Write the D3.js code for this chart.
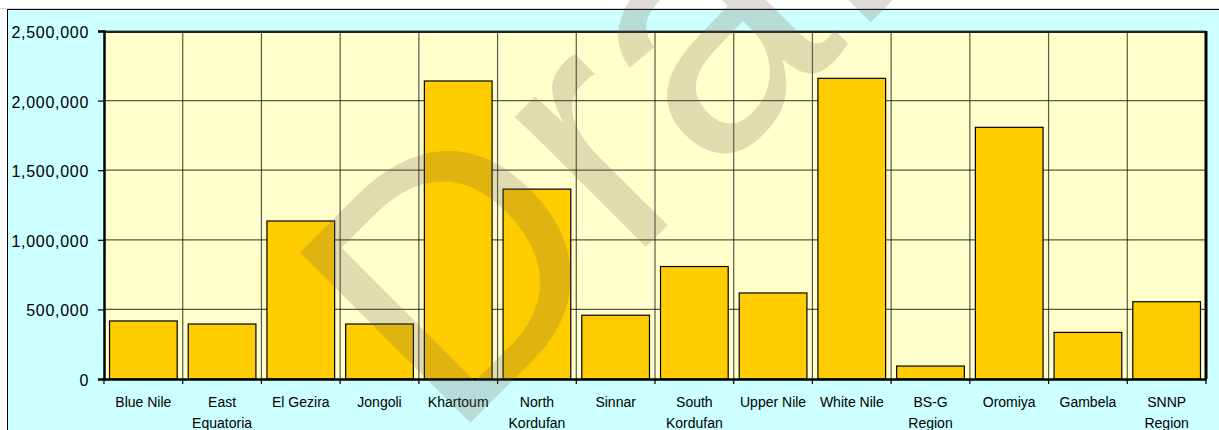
<!DOCTYPE html>
<html>
<head>
<meta charset="utf-8">
<script src="https://cdn.jsdelivr.net/npm/d3@7/dist/d3.min.js"></script>
<style>
  body { margin: 0; background: #fff; }
  svg { display: block; font-family: 'Liberation Sans', Arial, sans-serif; }
</style>
</head>
<body>
<svg id="chart" width="1219" height="430"></svg>
<script>
// regions, '\n' marks where the axis label wraps
const regions = ['Blue Nile', 'East\nEquatoria', 'El Gezira', 'Jongoli', 'Khartoum',
  'North\nKordufan', 'Sinnar', 'South\nKordufan', 'Upper Nile', 'White Nile',
  'BS-G\nRegion', 'Oromiya', 'Gambela', 'SNNP\nRegion']
const values = [417000, 395000, 1135000, 395000, 2141000, 1364000, 458000,
  808000, 618000, 2160000, 93000, 1808000, 335000, 555000]
const yTicks = [0, 500000, 1000000, 1500000, 2000000, 2500000]
const watermark = 'Draft'

let svg = d3.select('#chart')
let plot = {left: 104, right: 1206, top: 31, bottom: 379}

// chart area background
svg.append('line')
    .attr('x1', 0).attr('x2', 1219).attr('y1', 8.5).attr('y2', 8.5)
    .attr('stroke', '#d8d8d8')
svg.append('rect')
    .attr('x', 7.5).attr('y', 9.5).attr('width', 1230).attr('height', 440)
    .attr('fill', '#ccffff')
    .attr('stroke', '#000')

let x = d3.scaleBand()
    .domain(regions)
    .range([plot.left, plot.right])
    .paddingInner(0.14)
    .paddingOuter(0.07)
let y = d3.scaleLinear()
    .domain([0, 2500000])
    .range([plot.bottom, plot.top])

let step = x.step()
let boundaries = d3.range(regions.length + 1).map(i => plot.left + i * step)

svg.append('rect')
    .attr('x', plot.left).attr('y', plot.top)
    .attr('width', plot.right - plot.left).attr('height', plot.bottom - plot.top)
    .attr('fill', '#ffffcc')

// gridlines, both directions
let grid = svg.append('g')
    .attr('stroke', '#000')
    .attr('stroke-opacity', 0.65)
    .attr('stroke-width', 1.2)
grid.selectAll('line.h')
  .data(yTicks.slice(1))
  .join('line')
    .classed('h', true)
    .attr('x1', plot.left).attr('x2', plot.right)
    .attr('y1', d => y(d)).attr('y2', d => y(d))
grid.selectAll('line.v')
  .data(boundaries.slice(1, -1))
  .join('line')
    .classed('v', true)
    .attr('x1', d => d).attr('x2', d => d)
    .attr('y1', plot.top).attr('y2', plot.bottom)

// bars
svg.append('g')
  .selectAll('rect')
  .data(regions)
  .join('rect')
    .attr('x', d => x(d))
    .attr('y', (d, i) => y(values[i]))
    .attr('width', x.bandwidth())
    .attr('height', (d, i) => y(0) - y(values[i]))
    .attr('fill', '#ffcc00')
    .attr('stroke', '#000')
    .attr('stroke-width', 1.2)

// plot border: thin-ish on top, heavy on right
svg.append('line')
    .attr('x1', plot.left).attr('x2', plot.right)
    .attr('y1', plot.top + 1).attr('y2', plot.top + 1)
    .attr('stroke', '#222').attr('stroke-width', 2)
svg.append('line')
    .attr('x1', plot.right).attr('x2', plot.right)
    .attr('y1', plot.top).attr('y2', plot.bottom)
    .attr('stroke', '#000').attr('stroke-width', 3)

// y axis
let yAxis = svg.append('g')
    .attr('transform', `translate(${plot.left},0)`)
    .call(d3.axisLeft(y)
      .tickValues(yTicks)
      .tickSize(6)
      .tickPadding(9)
      .tickFormat(d3.format(',')))
yAxis.select('.domain').attr('stroke-width', 2.5)
yAxis.selectAll('.tick line').attr('stroke-width', 1.2)
yAxis.selectAll('.tick text')
    .attr('font-family', 'Liberation Sans, Arial, sans-serif')
    .attr('font-size', 16)
    .attr('letter-spacing', 0.7)
    .attr('dy', '0.4em')
    .attr('fill', '#000')

// x axis: line, tick marks at category boundaries, wrapped labels
let xAxis = svg.append('g')
    .attr('transform', `translate(0,${plot.bottom})`)
    .call(d3.axisBottom(x).tickSize(0).tickPadding(0))
xAxis.select('.domain').attr('stroke-width', 2.5)
xAxis.selectAll('.tick text')
    .attr('font-family', 'Liberation Sans, Arial, sans-serif')
    .attr('font-size', 14)
    .attr('fill', '#000')
    .attr('dy', null)
    .attr('y', 0)
    .text(null)
    .selectAll('tspan')
    .data(d => d.split('\n'))
    .join('tspan')
      .attr('x', 0)
      .attr('y', (d, i) => 28 + i * 20.5)
      .text(d => d)
xAxis.selectAll('line.bound')
  .data(boundaries)
  .join('line')
    .classed('bound', true)
    .attr('x1', d => d).attr('x2', d => d)
    .attr('y1', 0).attr('y2', 5)
    .attr('stroke', '#000').attr('stroke-width', 1.2)

// "Draft" watermark across everything
svg.append('text')
    .attr('transform', 'translate(450,443) rotate(-45)')
    .attr('font-family', 'Liberation Sans, Arial, sans-serif')
    .attr('font-size', 350)
    .attr('fill', 'rgb(111,97,74)')
    .attr('fill-opacity', 0.22)
    .text(watermark)
</script>
</body>
</html>
